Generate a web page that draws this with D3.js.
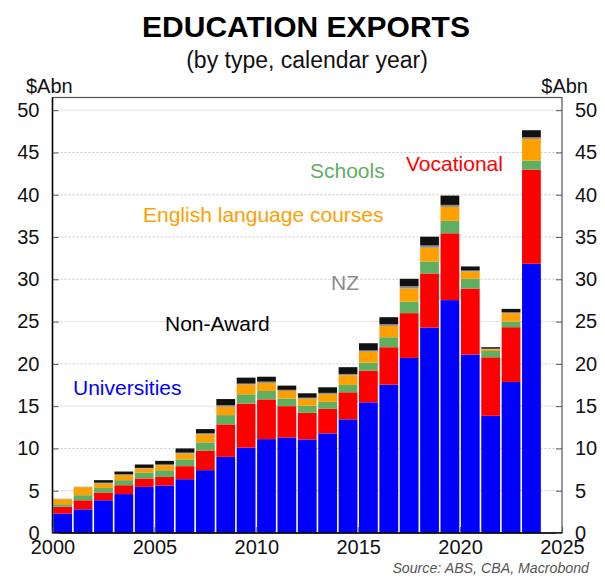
<!DOCTYPE html>
<html>
<head>
<meta charset="utf-8">
<script src="https://cdnjs.cloudflare.com/ajax/libs/d3/7.8.5/d3.min.js"></script>
<style>
    body { margin: 0; background: #fff; }
    text { font-family: "Liberation Sans", Arial, sans-serif; }
</style>
</head>
<body>
<div id="chart"></div>
<script>
// values in $A billion
var years = [2000, 2001, 2002, 2003, 2004, 2005, 2006, 2007, 2008, 2009, 2010, 2011,
    2012, 2013, 2014, 2015, 2016, 2017, 2018, 2019, 2020, 2021, 2022, 2023];
var universities = [2.3, 2.8, 3.87, 4.6, 5.45, 5.62, 6.36, 7.43, 9.0, 10.1, 11.1, 11.3,
    11.07, 11.78, 13.44, 15.45, 17.54, 20.7, 24.29, 27.54, 21.09, 13.86, 17.86, 31.84];
var vocational = [0.8, 1.07, 0.92, 1.05, 1.0, 1.0, 1.54, 2.29, 3.84, 5.2, 4.7, 3.7,
    3.15, 2.9, 3.2, 3.74, 4.43, 5.3, 6.4, 7.9, 7.82, 6.92, 6.48, 11.13];
var schools = [0.3, 0.6, 0.54, 0.6, 0.71, 0.8, 0.8, 1.0, 1.1, 1.1, 1.0, 0.9,
    0.83, 0.83, 0.87, 0.95, 1.18, 1.37, 1.42, 1.47, 1.15, 0.75, 0.66, 1.07];
var english = [0.6, 0.95, 0.52, 0.6, 0.47, 0.6, 0.7, 0.95, 1.0, 1.15, 0.95, 0.9,
    0.83, 0.91, 1.15, 1.3, 1.34, 1.54, 1.62, 1.65, 0.86, 0.2, 1.0, 2.56];
var nz = [0.05, 0.05, 0.1, 0.1, 0.07, 0.08, 0.1, 0.12, 0.17, 0.12, 0.15, 0.13,
    0.12, 0.15, 0.15, 0.15, 0.2, 0.28, 0.27, 0.24, 0.12, 0.07, 0.1, 0.2];
var nonAward = [0, 0, 0.3, 0.32, 0.4, 0.43, 0.5, 0.5, 0.73, 0.7, 0.58, 0.5,
    0.52, 0.66, 0.8, 0.85, 0.83, 0.87, 1.04, 1.1, 0.48, 0.17, 0.4, 0.83];

var seriesKeys = ["universities", "vocational", "schools", "english", "nz", "nonAward"];
var seriesColors = ["#0000ff", "#ff0000", "#60ae60", "#ff9f00", "#8c8c8c", "#111111"];
var yTicks = [0, 5, 10, 15, 20, 25, 30, 35, 40, 45, 50];
var xTicks = [2000, 2005, 2010, 2015, 2020, 2025];

function init() {
    var width = 605, height = 577;
    var left = 52.5, right = 562, top = 97.5, bottom = 533;

    var svg = d3.select("#chart")
        .append("svg")
        .attr("width", width)
        .attr("height", height);

    var table = years.map(function (y, i) {
        return {
            year: y,
            universities: universities[i],
            vocational: vocational[i],
            schools: schools[i],
            english: english[i],
            nz: nz[i],
            nonAward: nonAward[i]
        };
    });

    var xScale = d3.scaleLinear().domain([2000, 2025]).range([left, right]);
    var yScale = d3.scaleLinear().domain([0, 51.5]).range([bottom, top]);

    // dotted gridlines
    svg.append("g")
        .selectAll("line")
        .data(yTicks.filter(function (d) { return d > 0; }))
        .enter()
        .append("line")
        .attr("x1", left)
        .attr("x2", right)
        .attr("y1", function (d) { return yScale(d); })
        .attr("y2", function (d) { return yScale(d); })
        .attr("stroke", "#c8c8c8")
        .attr("stroke-width", 1)
        .attr("stroke-dasharray", "2,2");

    // stacked bars
    var stacked = d3.stack().keys(seriesKeys)(table);
    var step = xScale(2001) - xScale(2000);

    svg.append("g")
        .selectAll("g")
        .data(stacked)
        .enter()
        .append("g")
        .attr("fill", function (d, i) { return seriesColors[i]; })
        .selectAll("rect")
        .data(function (d) { return d; })
        .enter()
        .append("rect")
        .attr("x", function (d) { return xScale(d.data.year) + 0.8; })
        .attr("width", step - 1.6)
        .attr("y", function (d) { return yScale(d[1]); })
        .attr("height", function (d) { return Math.max(0, yScale(d[0]) - yScale(d[1])); });

    // frame
    svg.append("rect")
        .attr("x", left)
        .attr("y", top)
        .attr("width", right - left)
        .attr("height", bottom - top)
        .attr("fill", "none")
        .attr("stroke", "#555")
        .attr("stroke-width", 1.2);

    svg.append("line")
        .attr("x1", left).attr("x2", left)
        .attr("y1", top).attr("y2", bottom)
        .attr("stroke", "#000").attr("stroke-width", 1.5);
    svg.append("line")
        .attr("x1", left).attr("x2", right)
        .attr("y1", bottom).attr("y2", bottom)
        .attr("stroke", "#000").attr("stroke-width", 1.5);

    // axes with inward ticks
    var yLeft = d3.axisLeft(yScale).tickValues(yTicks).tickSizeInner(-6).tickSizeOuter(0).tickPadding(13);
    var yRight = d3.axisRight(yScale).tickValues(yTicks).tickSizeInner(-6).tickSizeOuter(0).tickPadding(13);
    var xAxis = d3.axisBottom(xScale).tickValues(xTicks).tickFormat(d3.format("d"))
        .tickSizeInner(-6).tickSizeOuter(0).tickPadding(7);

    var gl = svg.append("g").attr("transform", "translate(" + left + ",0)").call(yLeft);
    var gr = svg.append("g").attr("transform", "translate(" + right + ",0)").call(yRight);
    var gx = svg.append("g").attr("transform", "translate(0," + bottom + ")").call(xAxis);

    [gl, gr, gx].forEach(function (g) {
        g.select(".domain").remove();
        g.selectAll(".tick line").attr("stroke", "#555");
        g.selectAll(".tick text")
            .attr("fill", "#111")
            .style("font-size", "20px")
            .style("font-family", "'Liberation Sans', Arial, sans-serif");
    });

    // titles
    svg.append("text")
        .attr("x", 306).attr("y", 36.5)
        .attr("text-anchor", "middle")
        .style("font-size", "30px").style("font-weight", "bold")
        .attr("fill", "#000")
        .text("EDUCATION EXPORTS");

    svg.append("text")
        .attr("x", 307).attr("y", 67.5)
        .attr("text-anchor", "middle")
        .style("font-size", "23px")
        .attr("fill", "#111")
        .text("(by type, calendar year)");

    svg.append("text")
        .attr("x", 26).attr("y", 93)
        .style("font-size", "20px").attr("fill", "#111")
        .text("$Abn");
    svg.append("text")
        .attr("x", 588).attr("y", 93)
        .attr("text-anchor", "end")
        .style("font-size", "20px").attr("fill", "#111")
        .text("$Abn");

    // series labels
    var labels = [
        { t: "Universities", x: 73, y: 395, c: seriesColors[0] },
        { t: "Vocational", x: 406, y: 171, c: seriesColors[1] },
        { t: "Schools", x: 310, y: 178, c: "#5fae5f" },
        { t: "English language courses", x: 143, y: 222, c: "#ff9f00" },
        { t: "NZ", x: 331, y: 290, c: "#8c8c8c" },
        { t: "Non-Award", x: 165, y: 331, c: "#000" }
    ];
    svg.append("g")
        .selectAll("text")
        .data(labels)
        .enter()
        .append("text")
        .attr("x", function (d) { return d.x; })
        .attr("y", function (d) { return d.y; })
        .attr("fill", function (d) { return d.c; })
        .style("font-size", "21px")
        .text(function (d) { return d.t; });

    svg.append("text")
        .attr("x", 589).attr("y", 573)
        .attr("text-anchor", "end")
        .style("font-size", "14.2px").style("font-style", "italic")
        .attr("fill", "#555")
        .text("Source: ABS, CBA, Macrobond");
}

window.onload = init;
</script>
</body>
</html>
